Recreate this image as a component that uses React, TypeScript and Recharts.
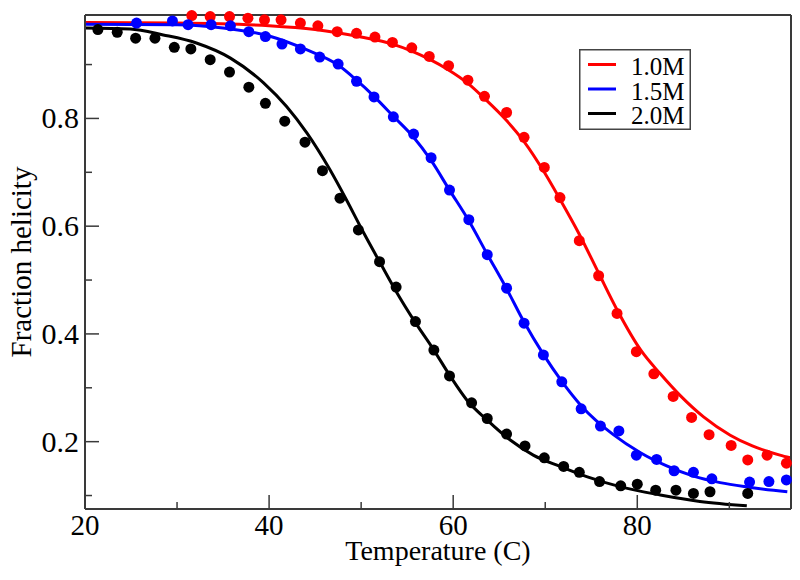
import { ComposedChart, Legend, Line, Scatter, XAxis, YAxis } from "recharts";

// measured points (temperature in C, fraction helicity)
const DOTS_10_T = [31.6, 33.6, 35.7, 37.7, 39.5, 41.3, 43.4, 45.3, 47.4, 49.5, 51.5, 53.4, 55.5, 57.4, 59.5, 61.6, 63.4, 65.8, 67.7, 69.9, 71.6, 73.7, 75.8, 77.8, 79.9, 81.8, 83.9, 85.9, 87.8, 90.2, 92.0, 94.1, 96.2];
const DOTS_10_F = [0.991, 0.989, 0.989, 0.986, 0.983, 0.983, 0.977, 0.972, 0.961, 0.958, 0.951, 0.941, 0.931, 0.915, 0.898, 0.871, 0.841, 0.811, 0.765, 0.709, 0.653, 0.573, 0.508, 0.438, 0.367, 0.326, 0.284, 0.245, 0.213, 0.193, 0.166, 0.175, 0.16];

const DOTS_15_T = [25.6, 29.5, 31.2, 33.7, 35.8, 37.8, 39.6, 41.4, 43.4, 45.5, 47.5, 49.5, 51.4, 53.5, 55.7, 57.6, 59.6, 61.7, 63.7, 65.8, 67.7, 69.8, 71.8, 73.9, 76.0, 78.0, 79.9, 82.1, 84.0, 86.1, 88.1, 92.2, 94.3, 96.2];
const DOTS_15_F = [0.977, 0.981, 0.974, 0.974, 0.972, 0.961, 0.952, 0.938, 0.929, 0.914, 0.901, 0.869, 0.84, 0.803, 0.771, 0.727, 0.667, 0.612, 0.547, 0.485, 0.42, 0.361, 0.311, 0.261, 0.229, 0.22, 0.175, 0.167, 0.146, 0.143, 0.131, 0.125, 0.126, 0.129];

const DOTS_20_T = [21.4, 23.5, 25.5, 27.6, 29.7, 31.5, 33.6, 35.7, 37.8, 39.6, 41.7, 43.9, 45.8, 47.7, 49.7, 52.0, 53.8, 55.9, 57.9, 59.6, 62.0, 63.7, 65.8, 67.8, 69.9, 72.0, 73.7, 75.9, 78.2, 80.0, 82.0, 84.2, 86.1, 87.9, 92.0];
const DOTS_20_F = [0.965, 0.96, 0.949, 0.949, 0.932, 0.929, 0.909, 0.886, 0.858, 0.828, 0.795, 0.756, 0.703, 0.652, 0.593, 0.534, 0.487, 0.423, 0.37, 0.322, 0.272, 0.243, 0.214, 0.192, 0.17, 0.154, 0.143, 0.126, 0.118, 0.121, 0.11, 0.11, 0.104, 0.107, 0.104];

// fitted curves
const FIT_10_T = [20, 30, 40, 45, 50, 53.4, 55.5, 57.4, 59.5, 61.6, 63.4, 65.8, 67.7, 69.9, 71.6, 73.7, 75.8, 77.8, 80.5, 82.5, 84.7, 87.2, 90.1, 92.5, 95.5, 96.6];
const FIT_10_F = [0.978, 0.977, 0.972, 0.965, 0.951, 0.938, 0.925, 0.91, 0.89, 0.865, 0.837, 0.796, 0.757, 0.7, 0.65, 0.585, 0.513, 0.445, 0.367, 0.326, 0.285, 0.246, 0.212, 0.192, 0.175, 0.17];

const FIT_15_T = [20, 30, 35, 40, 44, 47.5, 49.5, 51.4, 53.5, 55.7, 57.6, 59.6, 61.7, 63.7, 65.8, 67.7, 69.8, 71.8, 74.0, 77.4, 80.3, 83.2, 86.1, 89.0, 91.9, 96.3];
const FIT_15_F = [0.975, 0.974, 0.968, 0.953, 0.928, 0.899, 0.871, 0.841, 0.804, 0.765, 0.722, 0.667, 0.61, 0.548, 0.484, 0.422, 0.362, 0.312, 0.265, 0.213, 0.18, 0.155, 0.136, 0.124, 0.116, 0.107];

const FIT_20_T = [20, 24.9, 28.5, 32.1, 35.8, 39.4, 41.9, 44.1, 46.6, 48.4, 50.2, 52.1, 53.9, 55.7, 57.9, 59.7, 61.5, 63.7, 66.2, 68.7, 71.6, 74.5, 78.2, 82.5, 86.8, 91.9];
const FIT_20_F = [0.968, 0.966, 0.955, 0.94, 0.912, 0.866, 0.822, 0.773, 0.705, 0.649, 0.59, 0.531, 0.476, 0.426, 0.37, 0.321, 0.277, 0.24, 0.203, 0.175, 0.154, 0.135, 0.116, 0.101, 0.089, 0.081];

const SERIES_NAMES = ["1.0M", "1.5M", "2.0M"];
const SERIES_COLORS = ["#ff0000", "#0000ff", "#000000"];

const X_TICKS = [20, 30, 40, 50, 60, 70, 80, 90];
const X_LABELED = [20, 40, 60, 80];
const Y_TICKS = [0.1, 0.2, 0.3, 0.4, 0.5, 0.6, 0.7, 0.8, 0.9];
const Y_LABELED = [0.2, 0.4, 0.6, 0.8];

const X_DOMAIN = [20, 96.7];
const Y_DOMAIN = [0.075, 0.992];

const FONT = "'Liberation Serif', 'DejaVu Serif', serif";
const FRAME = "#3a3a3a";
const MAJOR = 14;
const MINOR = 7;

const zip = (t: number[], f: number[]) => t.map((x, i) => ({ x, y: f[i] }));

const DOTS = [zip(DOTS_10_T, DOTS_10_F), zip(DOTS_15_T, DOTS_15_F), zip(DOTS_20_T, DOTS_20_F)];
const FITS = [zip(FIT_10_T, FIT_10_F), zip(FIT_15_T, FIT_15_F), zip(FIT_20_T, FIT_20_F)];

// xmgrace style: ticks point into the plot, labels only on bottom/left
function makeTick(side: "bottom" | "top" | "left" | "right") {
  return (props: any) => {
    const { x, y, payload } = props;
    const v = payload.value;
    const horizontal = side === "bottom" || side === "top";
    const major = horizontal ? X_LABELED.includes(v) : Y_LABELED.includes(v);
    const len = major ? MAJOR : MINOR;
    let line;
    if (side === "bottom") line = <line x1={x} y1={y} x2={x} y2={y - len} />;
    else if (side === "top") line = <line x1={x} y1={y} x2={x} y2={y + len} />;
    else if (side === "left") line = <line x1={x} y1={y} x2={x + len} y2={y} />;
    else line = <line x1={x} y1={y} x2={x - len} y2={y} />;
    return (
      <g>
        <g stroke={FRAME} strokeWidth={1.5}>{line}</g>
        {side === "bottom" && major && (
          <text x={x} y={y + 26} textAnchor="middle" fontFamily={FONT} fontSize={29} fill="#000">
            {v}
          </text>
        )}
        {side === "left" && major && (
          <text x={x - 6} y={y + 10} textAnchor="end" fontFamily={FONT} fontSize={30} fill="#000">
            {v.toFixed(1)}
          </text>
        )}
      </g>
    );
  };
}

function LegendBox() {
  return (
    <svg width={112} height={81} style={{ display: "block" }}>
      <rect x={0.75} y={0.75} width={110.5} height={79.5} fill="#fff" stroke="#444" strokeWidth={1.5} />
      {SERIES_NAMES.map((name, i) => (
        <g key={name}>
          <line x1={9} x2={37} y1={15.5 + i * 24.5} y2={15.5 + i * 24.5} stroke={SERIES_COLORS[i]} strokeWidth={3} />
          <text x={52} y={26 + i * 24.5} fontFamily={FONT} fontSize={25} fill="#000">
            {name}
          </text>
        </g>
      ))}
    </svg>
  );
}

export default function App() {
  return (
    <div style={{ position: "absolute", left: 0, top: 0, width: 800, height: 580, background: "#fff" }}>
      <ComposedChart width={800} height={580} margin={{ top: 0, right: 0, bottom: 0, left: 0 }}>
        <XAxis
          xAxisId="b"
          dataKey="x"
          type="number"
          domain={X_DOMAIN}
          ticks={X_TICKS}
          interval={0}
          height={71}
          tickSize={0}
          tickMargin={0}
          tickLine={false}
          axisLine={{ stroke: FRAME, strokeWidth: 2 }}
          tick={makeTick("bottom")}
          label={{
            content: () => (
              <text x={438} y={560} textAnchor="middle" fontFamily={FONT} fontSize={28} fill="#000">
                Temperature (C)
              </text>
            ),
          }}
        />
        <XAxis
          xAxisId="t"
          orientation="top"
          dataKey="x"
          type="number"
          domain={X_DOMAIN}
          ticks={X_TICKS}
          interval={0}
          height={15}
          tickSize={0}
          tickMargin={0}
          tickLine={false}
          axisLine={{ stroke: FRAME, strokeWidth: 2 }}
          tick={makeTick("top")}
        />
        <YAxis
          yAxisId="l"
          type="number"
          domain={Y_DOMAIN}
          ticks={Y_TICKS}
          interval={0}
          width={85}
          tickSize={0}
          tickMargin={0}
          tickLine={false}
          axisLine={{ stroke: FRAME, strokeWidth: 2 }}
          tick={makeTick("left")}
          label={{
            content: () => (
              <text
                x={21}
                y={262}
                transform="rotate(-90 21 262)"
                textAnchor="middle"
                dominantBaseline="central"
                fontFamily={FONT}
                fontSize={29}
                fill="#000"
              >
                Fraction helicity
              </text>
            ),
          }}
        />
        <YAxis
          yAxisId="r"
          orientation="right"
          type="number"
          domain={Y_DOMAIN}
          ticks={Y_TICKS}
          interval={0}
          width={9}
          tickSize={0}
          tickMargin={0}
          tickLine={false}
          axisLine={{ stroke: FRAME, strokeWidth: 2 }}
          tick={makeTick("right")}
        />
        {FITS.map((data, i) => (
          <Line
            key={"fit" + i}
            xAxisId="b"
            yAxisId="l"
            data={data}
            dataKey="y"
            name={SERIES_NAMES[i]}
            type="monotone"
            stroke={SERIES_COLORS[i]}
            strokeWidth={3}
            dot={false}
            activeDot={false}
            isAnimationActive={false}
          />
        ))}
        {DOTS.map((data, i) => (
          <Scatter
            key={"dots" + i}
            xAxisId="b"
            yAxisId="l"
            data={data}
            dataKey="y"
            fill={SERIES_COLORS[i]}
            shape={(p: any) => <circle cx={p.cx} cy={p.cy} r={5.5} fill={SERIES_COLORS[i]} />}
            isAnimationActive={false}
          />
        ))}
        <Legend
          layout="vertical"
          align="center"
          verticalAlign="middle"
          content={() => <LegendBox />}
          wrapperStyle={{ position: "absolute", left: 579, top: 49, width: 112, height: 81 }}
        />
      </ComposedChart>
    </div>
  );
}
